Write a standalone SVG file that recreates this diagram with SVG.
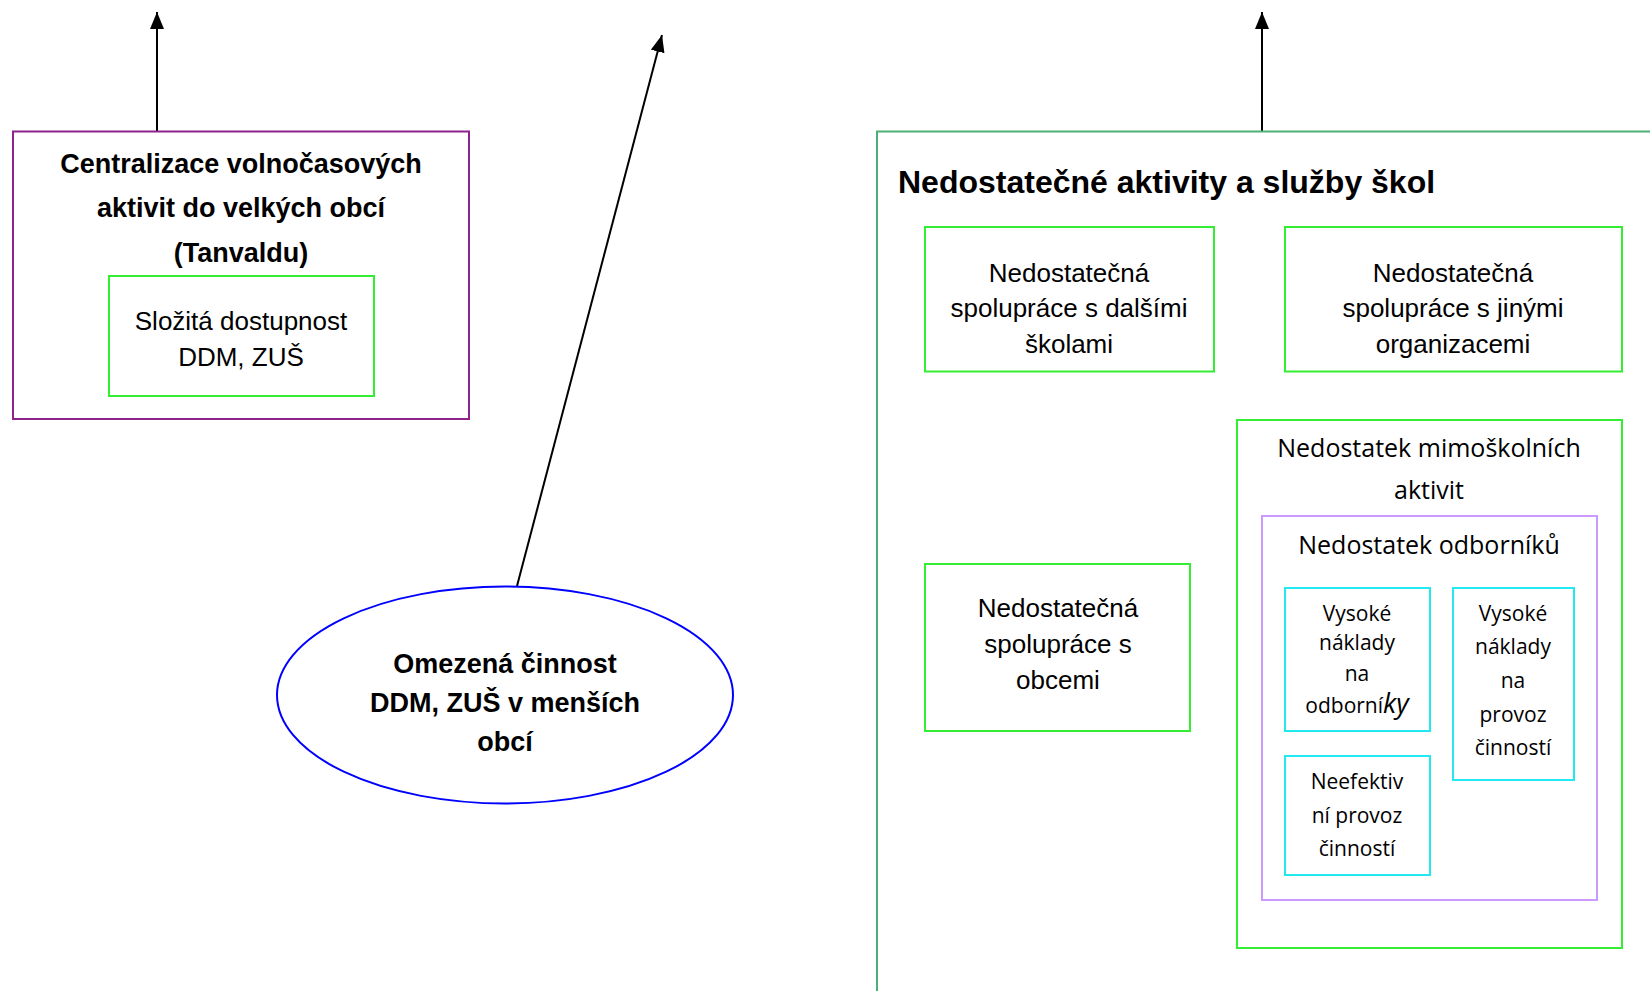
<svg xmlns="http://www.w3.org/2000/svg" width="1650" height="991" viewBox="0 0 1650 991">
<defs>
<marker id="arr" viewBox="0 0 17 14" refX="17" refY="7" markerWidth="17" markerHeight="14" markerUnits="userSpaceOnUse" orient="auto">
<path d="M0,0 L17,7 L0,14 Z" fill="#000"/>
</marker>
</defs>
<style>
.bg{fill:#fff}
.box{fill:none;stroke-width:2}
.green{stroke:#33EE33}
.dgreen{stroke:#4CAF78}
.purple{stroke:#8E238E}
.lav{stroke:#CC99FF}
.cyan{stroke:#22E8F0}
.conn{stroke:#000;stroke-width:2;fill:none}
.t{font-family:"Liberation Sans",Arial,sans-serif;font-size:26px;fill:#000;text-anchor:middle}
.b{font-family:"Liberation Sans",Arial,sans-serif;font-size:27px;font-weight:bold;fill:#000;text-anchor:middle}
.o{font-family:"Open Sans",sans-serif;font-size:25px;fill:#000;text-anchor:middle}
.s{font-family:"Open Sans",sans-serif;font-size:21px;fill:#000;text-anchor:middle}
</style>
<rect class="bg" x="0" y="0" width="1650" height="991"/>

<g id="connectors">
<line class="conn" x1="157" y1="131" x2="157" y2="12" marker-end="url(#arr)"/>
<line class="conn" x1="517" y1="586" x2="662" y2="35" marker-end="url(#arr)"/>
<line class="conn" x1="1262" y1="131" x2="1262" y2="12" marker-end="url(#arr)"/>
</g>

<g id="centralizace">
<rect class="box purple" x="13" y="131.5" width="456" height="287.5"/>
<text class="b" x="241" y="173">Centralizace volnočasových</text>
<text class="b" x="241" y="217">aktivit do velkých obcí</text>
<text class="b" x="241" y="262">(Tanvaldu)</text>
</g>

<g id="slozita">
<rect class="box green" x="109" y="276" width="265" height="120"/>
<text class="t" x="241" y="330">Složitá dostupnost</text>
<text class="t" x="241" y="366">DDM, ZUŠ</text>
</g>

<g id="omezena">
<ellipse cx="505" cy="695" rx="228" ry="108.5" fill="none" stroke="#0000FF" stroke-width="2"/>
<text class="b" x="505" y="673">Omezená činnost</text>
<text class="b" x="505" y="712">DDM, ZUŠ v menších</text>
<text class="b" x="505" y="751">obcí</text>
</g>

<g id="nedostatecne-aktivity">
<path class="box dgreen" d="M877,995 L877,131.5 L1655,131.5"/>
<text font-family="Liberation Sans, Arial, sans-serif" font-size="32" font-weight="bold" x="898" y="193" fill="#000">Nedostatečné aktivity a služby škol</text>
</g>

<g id="spoluprace-skoly">
<rect class="box green" x="925" y="227" width="289" height="144.5"/>
<text class="t" x="1069" y="282">Nedostatečná</text>
<text class="t" x="1069" y="317">spolupráce s dalšími</text>
<text class="t" x="1069" y="353">školami</text>
</g>

<g id="spoluprace-organizace">
<rect class="box green" x="1285" y="227" width="337" height="144.5"/>
<text class="t" x="1453" y="282">Nedostatečná</text>
<text class="t" x="1453" y="317">spolupráce s jinými</text>
<text class="t" x="1453" y="353">organizacemi</text>
</g>

<g id="spoluprace-obce">
<rect class="box green" x="925" y="564" width="265" height="167"/>
<text class="t" x="1058" y="617">Nedostatečná</text>
<text class="t" x="1058" y="653">spolupráce s</text>
<text class="t" x="1058" y="689">obcemi</text>
</g>

<g id="mimoskolni">
<rect class="box green" x="1237" y="420" width="385" height="528"/>
<text class="o" x="1429" y="457">Nedostatek mimoškolních</text>
<text class="o" x="1429" y="499">aktivit</text>
</g>

<g id="odbornici">
<rect class="box lav" x="1262" y="516" width="335" height="384"/>
<text class="o" x="1429" y="554">Nedostatek odborníků</text>
</g>

<g id="naklady-odbornici">
<rect class="box cyan" x="1285" y="588" width="145" height="143"/>
<text class="s" x="1357" y="621">Vysoké</text>
<text class="s" x="1357" y="650">náklady</text>
<text class="s" x="1357" y="681">na</text>
<text class="s" x="1357" y="713">odborní<tspan font-style="italic" font-size="27">ky</tspan></text>
</g>

<g id="naklady-provoz">
<rect class="box cyan" x="1453" y="588" width="121" height="192"/>
<text class="s" x="1513" y="621">Vysoké</text>
<text class="s" x="1513" y="654">náklady</text>
<text class="s" x="1513" y="688">na</text>
<text class="s" x="1513" y="722">provoz</text>
<text class="s" x="1513" y="755">činností</text>
</g>

<g id="neefektivni">
<rect class="box cyan" x="1285" y="756" width="145" height="119"/>
<text class="s" x="1357" y="789">Neefektiv</text>
<text class="s" x="1357" y="823">ní provoz</text>
<text class="s" x="1357" y="856">činností</text>
</g>
</svg>
